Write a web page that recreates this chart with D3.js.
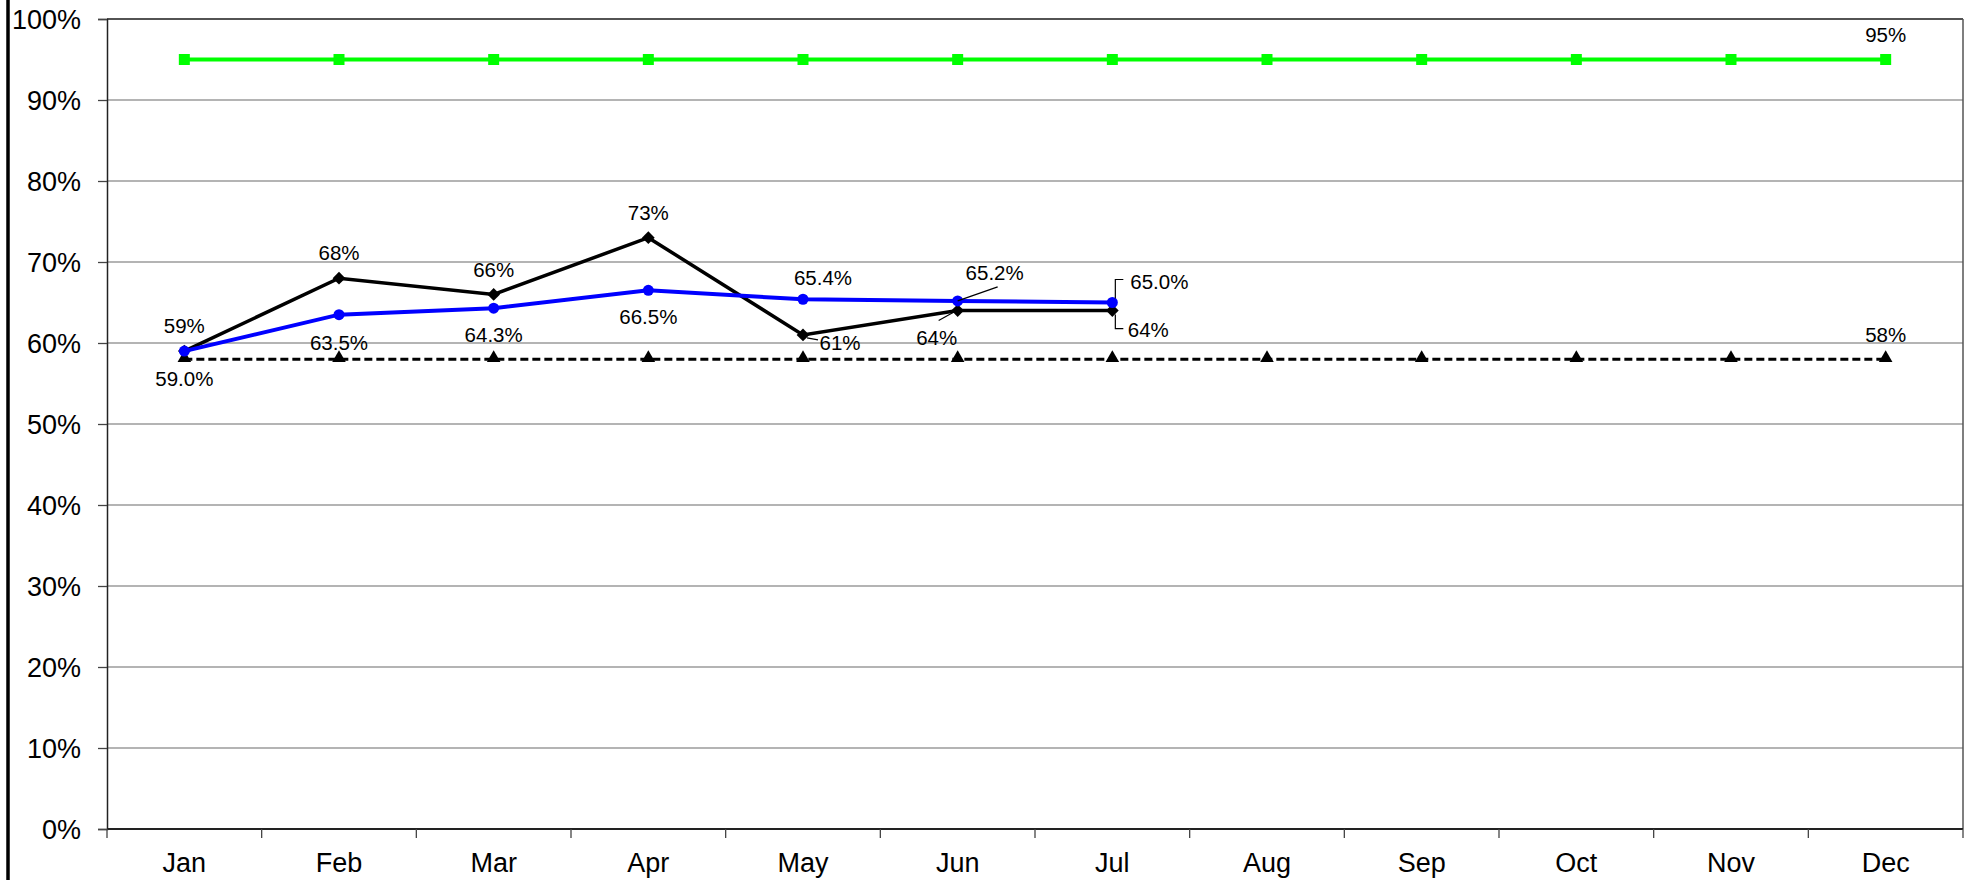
<!DOCTYPE html>
<html>
<head>
<meta charset="utf-8">
<script src="https://cdn.jsdelivr.net/npm/d3@7"></script>
<style>
body { margin: 0; background: #fff; }
text { font-family: "Liberation Sans", Arial, sans-serif; fill: #000; }
</style>
</head>
<body>
<svg id="chart" width="1974" height="880"></svg>
<script>
"use strict";

// chart data
var months = ["Jan", "Feb", "Mar", "Apr", "May", "Jun", "Jul", "Aug", "Sep", "Oct", "Nov", "Dec"];
var targetValues = [95, 95, 95, 95, 95, 95, 95, 95, 95, 95, 95, 95];
var floorValues = [58, 58, 58, 58, 58, 58, 58, 58, 58, 58, 58, 58];
var actualValues = [59, 68, 66, 73, 61, 64, 64];
var ytdValues = [59.0, 63.5, 64.3, 66.5, 65.4, 65.2, 65.0];
var yTicks = [0, 10, 20, 30, 40, 50, 60, 70, 80, 90, 100];

// where each data label sits relative to its point (pixels), plus optional leader lines
var actualLabelPos = [
	{dx: 0, dy: -25}, {dx: 0, dy: -25}, {dx: 0, dy: -25}, {dx: 0, dy: -25},
	{dx: 37, dy: 8, leader: [[4, 3], [15, 5]]},
	{dx: -21, dy: 27, leader: [[-19, 10], [-1, 0]]},
	{dx: 36, dy: 19, leader: [[3, 4], [3, 18], [11, 18]]}
];
var ytdLabelPos = [
	{dx: 0, dy: 28}, {dx: 0, dy: 28}, {dx: 0, dy: 27}, {dx: 0, dy: 26},
	{dx: 20, dy: -21},
	{dx: 37, dy: -28, leader: [[0, 0], [40, -14]]},
	{dx: 47, dy: -21, leader: [[3, -4], [3, -23], [11, -23]]}
];

var svg = d3.select("#chart");
var plotLeft = 107, plotTop = 19, plotRight = 1963, plotBottom = 829;

var x = d3.scaleBand().domain(months).range([plotLeft, plotRight]);
var y = d3.scaleLinear().domain([0, 100]).range([plotBottom, plotTop]);
function cx(i){ return x(months[i]) + x.bandwidth()/2; }

//thick black line down the left edge
svg.append("line")
	.attr("x1", 8).attr("x2", 8).attr("y1", 0).attr("y2", 880)
	.style("stroke", "#000").style("stroke-width", "3.5px");

//gridlines
svg.selectAll(".grid")
	.data(yTicks)
	.enter()
	.append("line")
	.attr("class", "grid")
	.attr("x1", plotLeft).attr("x2", plotRight)
	.attr("y1", function(d){ return y(d); })
	.attr("y2", function(d){ return y(d); })
	.style("stroke", "#6a6a6a").style("stroke-width", "1.2px");

//plot border
svg.append("line").attr("x1", plotLeft).attr("x2", plotRight).attr("y1", plotTop).attr("y2", plotTop)
	.style("stroke", "#333").style("stroke-width", "1.5px");
svg.append("line").attr("x1", plotRight).attr("x2", plotRight).attr("y1", plotTop).attr("y2", plotBottom)
	.style("stroke", "#555").style("stroke-width", "1.5px");

//y axis
var yAxis = d3.axisLeft(y).tickValues(yTicks).tickSize(9).tickPadding(17)
	.tickFormat(function(d){ return d + "%"; });
var yg = svg.append("g").attr("transform", "translate(" + plotLeft + ",0)").call(yAxis);
yg.select(".domain").style("stroke", "#222").style("stroke-width", "1.5px");
yg.selectAll(".tick line").style("stroke", "#444").style("stroke-width", "1.3px");
yg.selectAll(".tick text").style("font-size", "27px").style("font-family", "'Liberation Sans', Arial, sans-serif").attr("dy", "0.35em");

//x axis, ticks fall between the months
var xg = svg.append("g").attr("transform", "translate(0," + plotBottom + ")");
xg.append("line").attr("x1", plotLeft).attr("x2", plotRight).attr("y1", 0).attr("y2", 0)
	.style("stroke", "#222").style("stroke-width", "2px");
xg.selectAll(".xtick")
	.data(d3.range(months.length + 1))
	.enter()
	.append("line")
	.attr("x1", function(i){ return plotLeft + i*x.bandwidth(); })
	.attr("x2", function(i){ return plotLeft + i*x.bandwidth(); })
	.attr("y1", 0).attr("y2", 9)
	.style("stroke", "#444").style("stroke-width", "1.3px");
xg.selectAll(".xlabel")
	.data(months)
	.enter()
	.append("text")
	.attr("text-anchor", "middle")
	.attr("x", function(d){ return x(d) + x.bandwidth()/2; })
	.attr("y", 43)
	.style("font-size", "27px")
	.text(function(d){ return d; });

var line = d3.line()
	.x(function(d, i){ return cx(i); })
	.y(function(d){ return y(d); });

//target (green squares)
svg.append("path").datum(targetValues).attr("d", line)
	.style("fill", "none").style("stroke", "#00ff00").style("stroke-width", "4px");
svg.selectAll(".tgt")
	.data(targetValues)
	.enter()
	.append("rect")
	.attr("x", function(d, i){ return cx(i) - 5.5; })
	.attr("y", function(d){ return y(d) - 5.5; })
	.attr("width", 11).attr("height", 11)
	.style("fill", "#00ff00");

//floor (dashed with triangles)
svg.append("path").datum(floorValues).attr("d", line)
	.style("fill", "none").style("stroke", "#000").style("stroke-width", "3px")
	.style("stroke-dasharray", "8,4");
svg.selectAll(".flr")
	.data(floorValues)
	.enter()
	.append("path")
	.attr("d", d3.symbol().type(d3.symbolTriangle).size(80))
	.attr("transform", function(d, i){ return "translate(" + cx(i) + "," + (y(d) - 1) + ")"; })
	.style("fill", "#000");

//monthly actual (black diamonds)
svg.append("path").datum(actualValues).attr("d", line)
	.style("fill", "none").style("stroke", "#000").style("stroke-width", "3.5px");
svg.selectAll(".act")
	.data(actualValues)
	.enter()
	.append("rect")
	.attr("x", -4.5).attr("y", -4.5).attr("width", 9).attr("height", 9)
	.attr("transform", function(d, i){ return "translate(" + cx(i) + "," + y(d) + ") rotate(45)"; })
	.style("fill", "#000");

//year to date (blue circles)
svg.append("path").datum(ytdValues).attr("d", line)
	.style("fill", "none").style("stroke", "#0000ff").style("stroke-width", "4px");
svg.selectAll(".ytd")
	.data(ytdValues)
	.enter()
	.append("circle")
	.attr("cx", function(d, i){ return cx(i); })
	.attr("cy", function(d){ return y(d); })
	.attr("r", 5.5)
	.style("fill", "#0000ff");

//data labels
function addLabels(values, pos, fmt){
	values.forEach(function(v, i){
		var p = pos[i];
		var px = cx(i), py = y(v);
		if(p.leader){
			svg.append("polyline")
				.attr("points", p.leader.map(function(q){ return (px + q[0]) + "," + (py + q[1]); }).join(" "))
				.style("fill", "none").style("stroke", "#000").style("stroke-width", "1.2px");
		}
		svg.append("text")
			.attr("x", px + p.dx)
			.attr("y", py + p.dy)
			.attr("text-anchor", "middle")
			.attr("dy", "0.35em")
			.style("font-size", "20.5px")
			.text(fmt(v));
	});
}
addLabels(actualValues, actualLabelPos, function(v){ return v + "%"; });
addLabels(ytdValues, ytdLabelPos, function(v){ return v.toFixed(1) + "%"; });

//only the last month of the target and floor lines is labelled
var last = months.length - 1;
svg.append("text")
	.attr("x", cx(last)).attr("y", y(targetValues[last]) - 25).attr("dy", "0.35em")
	.attr("text-anchor", "middle").style("font-size", "20.5px")
	.text(targetValues[last] + "%");
svg.append("text")
	.attr("x", cx(last)).attr("y", y(floorValues[last]) - 24).attr("dy", "0.35em")
	.attr("text-anchor", "middle").style("font-size", "20.5px")
	.text(floorValues[last] + "%");
</script>
</body>
</html>
